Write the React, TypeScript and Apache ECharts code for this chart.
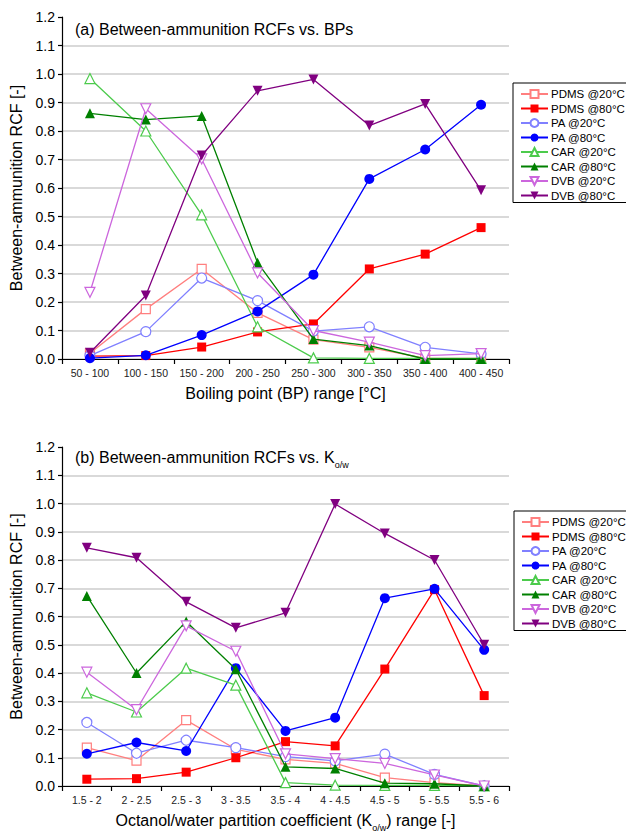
import React, { useEffect, useRef } from "react";
import * as echarts from "echarts";

// ---------- data ----------
const bpCategories = ["50 - 100", "100 - 150", "150 - 200", "200 - 250", "250 - 300", "300 - 350", "350 - 400", "400 - 450"];
const kowCategories = ["1.5 - 2", "2 - 2.5", "2.5 - 3", "3 - 3.5", "3.5 - 4", "4 - 4.5", "4.5 - 5", "5 - 5.5", "5.5 - 6"];
const seriesNames = ["PDMS @20°C", "PDMS @80°C", "PA @20°C", "PA @80°C", "CAR @20°C", "CAR @80°C", "DVB @20°C", "DVB @80°C"];
const yTicks = { min: 0, max: 1.2, step: 0.1 };

// (a) RCF vs BP
const bpPdms20 = [0.02, 0.175, 0.316, 0.162, 0.068, 0.041, 0.002, 0.002];
const bpPdms80 = [0.01, 0.012, 0.042, 0.095, 0.123, 0.316, 0.368, 0.461];
const bpPa20 = [0.012, 0.096, 0.284, 0.205, 0.098, 0.113, 0.041, 0.018];
const bpPa80 = [0.003, 0.013, 0.084, 0.167, 0.296, 0.632, 0.735, 0.892];
const bpCar20 = [0.984, 0.8, 0.506, 0.113, 0.004, 0.002, 0.002, 0.002];
const bpCar80 = [0.862, 0.84, 0.853, 0.338, 0.07, 0.047, 0.0, 0.0];
const bpDvb20 = [0.234, 0.878, 0.702, 0.302, 0.1, 0.059, 0.012, 0.019];
const bpDvb80 = [0.022, 0.223, 0.714, 0.941, 0.981, 0.819, 0.895, 0.592];

// (b) RCF vs Kow
const kowPdms20 = [0.136, 0.09, 0.233, 0.13, 0.094, 0.08, 0.03, 0.012, 0.0];
const kowPdms80 = [0.024, 0.026, 0.049, 0.1, 0.157, 0.142, 0.414, 0.695, 0.32];
const kowPa20 = [0.225, 0.116, 0.162, 0.136, 0.104, 0.089, 0.113, 0.041, 0.0];
const kowPa80 = [0.114, 0.154, 0.124, 0.417, 0.195, 0.242, 0.665, 0.698, 0.482];
const kowCar20 = [0.33, 0.262, 0.417, 0.357, 0.012, 0.003, 0.002, 0.002, 0.0];
const kowCar80 = [0.673, 0.4, 0.582, 0.413, 0.068, 0.062, 0.01, 0.008, 0.0];
const kowDvb20 = [0.403, 0.27, 0.567, 0.477, 0.114, 0.097, 0.08, 0.039, 0.0];
const kowDvb80 = [0.843, 0.808, 0.652, 0.56, 0.613, 0.998, 0.894, 0.8, 0.5];

const bpData = [bpPdms20, bpPdms80, bpPa20, bpPa80, bpCar20, bpCar80, bpDvb20, bpDvb80];
const kowData = [kowPdms20, kowPdms80, kowPa20, kowPa80, kowCar20, kowCar80, kowDvb20, kowDvb80];

// ---------- styles ----------
const colors = ["#ff7f7f", "#ff0000", "#8080ff", "#0000ff", "#4ccb4c", "#008000", "#cc66dd", "#800080"];
const symbols = ["rect", "rect", "circle", "circle", "triangle", "triangle", "triangle", "triangle"];
const rotations = [0, 0, 0, 0, 0, 0, 180, 180];
const hollow = [true, false, true, false, true, false, true, false];
const sizes = [9, 9, 10, 10, 10, 10, 10, 10];
const FONT = "Liberation Sans, Arial, sans-serif";

function makeSeries(data: number[][], gridIdx: number) {
  return data.map((vals, i) => ({
    type: "line",
    name: seriesNames[i],
    xAxisIndex: gridIdx,
    yAxisIndex: gridIdx,
    data: vals,
    symbol: symbols[i],
    symbolSize: sizes[i],
    symbolRotate: rotations[i],
    showAllSymbol: true,
    lineStyle: { color: colors[i], width: 1.3 },
    itemStyle: hollow[i]
      ? { color: "#ffffff", borderColor: colors[i], borderWidth: 1.2 }
      : { color: colors[i], borderColor: colors[i], borderWidth: 0 },
    emphasis: { disabled: true },
    z: 2 + i,
  }));
}

function yAxis(gridIdx: number) {
  return {
    type: "value",
    gridIndex: gridIdx,
    min: yTicks.min,
    max: yTicks.max,
    interval: yTicks.step,
    name: "Between-ammunition RCF [-]",
    nameLocation: "middle",
    nameGap: 37,
    nameTextStyle: { fontFamily: FONT, fontSize: 16, color: "#000" },
    axisLine: { show: true, lineStyle: { color: "#000", width: 1.2 } },
    axisTick: { show: true, length: 4, lineStyle: { color: "#000", width: 1.2 } },
    axisLabel: {
      fontFamily: FONT,
      fontSize: 14,
      color: "#000",
      margin: 7,
      formatter: (v: number) => v.toFixed(1),
    },
    splitLine: { show: true, showMaxLine: false, lineStyle: { color: "#cccccc", width: 1.5 } },
  };
}

function xAxis(gridIdx: number, cats: string[], name: string) {
  return {
    type: "category",
    gridIndex: gridIdx,
    data: cats,
    boundaryGap: true,
    name,
    nameLocation: "middle",
    nameGap: 22,
    nameTextStyle: {
      fontFamily: FONT,
      fontSize: 16,
      color: "#000",
      lineHeight: 24,
      rich: { sub: { fontFamily: FONT, fontSize: 9, lineHeight: 10, verticalAlign: "bottom", color: "#000" } },
    },
    axisLine: { show: true, onZero: false, lineStyle: { color: "#000", width: 1.2 } },
    axisTick: { show: true, interval: 0, length: 5, alignWithLabel: false, lineStyle: { color: "#000", width: 1.2 } },
    axisLabel: { interval: 0, fontFamily: FONT, fontSize: 10.5, color: "#222", margin: 8 },
    splitLine: { show: false },
  };
}

function legend(left: number, top: number, id: string) {
  return {
    id,
    data: seriesNames.map((n) => ({ name: n })),
    orient: "vertical",
    left,
    top,
    padding: [5, 2, 1, 7],
    itemWidth: 27,
    itemHeight: 10,
    itemGap: 2.5,
    backgroundColor: "#ffffff",
    borderColor: "#000",
    borderWidth: 1,
    selectedMode: false,
    textStyle: { fontFamily: FONT, fontSize: 11.5, color: "#000", padding: [0, 0, 0, -2] },
  };
}

const titleTextStyle = {
  fontFamily: FONT,
  fontSize: 16,
  fontWeight: "normal",
  color: "#000",
  lineHeight: 24,
  rich: { sub: { fontFamily: FONT, fontSize: 9, lineHeight: 10, verticalAlign: "bottom", color: "#000" } },
};

export default function App() {
  const ref = useRef<HTMLDivElement>(null);
  useEffect(() => {
    document.body.style.margin = "0";
    if (!ref.current) return;
    const chart = echarts.init(ref.current, null, { renderer: "svg" });
    chart.setOption({
      animation: false,
      backgroundColor: "#ffffff",
      title: [
        { text: "(a) Between-ammunition RCFs vs. BPs", left: 75, top: 17, padding: 0, textStyle: titleTextStyle },
        { text: "(b) Between-ammunition RCFs vs. K{sub|o/w}", left: 75, top: 445, padding: 0, textStyle: titleTextStyle },
      ],
      grid: [
        { left: 62, top: 17, width: 447, height: 342, containLabel: false },
        { left: 62, top: 447, width: 447, height: 341, containLabel: false },
      ],
      xAxis: [
        xAxis(0, bpCategories, "Boiling point (BP) range [°C]"),
        xAxis(1, kowCategories, "Octanol/water partition coefficient (K{sub|o/w}) range [-]"),
      ],
      yAxis: [yAxis(0), yAxis(1)],
      legend: [legend(513, 83, "lg0"), legend(514, 511, "lg1")],
      series: [...makeSeries(bpData, 0), ...makeSeries(kowData, 1)],
    });
    return () => chart.dispose();
  }, []);
  return <div ref={ref} style={{ width: 626, height: 833 }} />;
}
